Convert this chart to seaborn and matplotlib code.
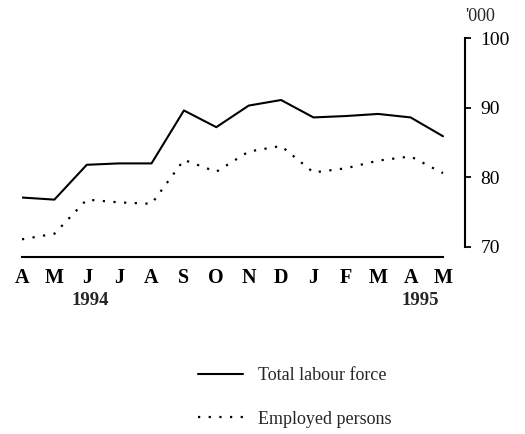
import matplotlib
matplotlib.use("Agg")
import matplotlib.pyplot as plt
import pandas as pd
import seaborn as sns

# data ('000 persons), Apr 1994 - May 1995
months = ["A", "M", "J", "J", "A", "S", "O", "N", "D", "J", "F", "M", "A", "M"]
total_labour = [77.1, 76.8, 81.8, 82.0, 82.0, 89.6, 87.2, 90.3, 91.1, 88.6, 88.8, 89.1, 88.6, 85.9]
employed = [71.1, 71.9, 76.8, 76.4, 76.2, 82.5, 80.8, 83.7, 84.5, 80.7, 81.3, 82.4, 83.0, 80.6]
years = ["1994", "1995"]
year_pos = [2.1, 12.3]

df = pd.DataFrame({"pos": range(len(months)),
                   "Total labour force": total_labour,
                   "Employed persons": employed})

sns.set_style("white")
plt.rcParams["font.family"] = ["Liberation Serif", "DejaVu Serif"]

fig = plt.figure(figsize=(5.25, 4.34), dpi=100)
ax = fig.add_axes([0.0419, 0.4078, 0.8438, 0.5046])

sns.lineplot(data=df, x="pos", y="Total labour force", ax=ax, color="black",
             linewidth=1.5, label="Total labour force")
sns.lineplot(data=df, x="pos", y="Employed persons", ax=ax, color="black",
             linewidth=1.6, linestyle=(0, (1, 3.8)), label="Employed persons")

n = len(months)
ax.set_xlim(0, (n - 1) * (465 - 22) / (443 - 22))
ax.set_ylim(68.56, 100)
ax.set_xlabel("")
ax.set_ylabel("")

for s in ["left", "top"]:
    ax.spines[s].set_visible(False)
ax.spines["bottom"].set_bounds(0, n - 1)
ax.spines["right"].set_bounds(70, 100)
for s in ["bottom", "right"]:
    ax.spines[s].set_linewidth(1.5)
    ax.spines[s].set_color("black")

ax.yaxis.tick_right()
ax.set_yticks([70, 80, 90, 100])
ax.tick_params(axis="y", direction="out", length=4, width=1.3, pad=7,
               labelsize=14, colors="black")
ax.set_xticks(range(n))
ax.set_xticklabels(months, fontweight="bold")
ax.tick_params(axis="x", direction="out", length=5, width=1.3, pad=3,
               labelsize=14.5, colors="black")

for y, p in zip(years, year_pos):
    ax.text(p, -0.197, y, transform=ax.get_xaxis_transform(), ha="center",
            va="center", fontsize=13.5, fontweight="bold")

ax.text(1.0, 1.10, "'000", transform=ax.transAxes, ha="left", va="center",
        fontsize=13)

handles, labels = ax.get_legend_handles_labels()
ax.get_legend().remove()
fig.legend(handles, labels, loc="center left", bbox_to_anchor=(0.377, 0.084),
           frameon=False, fontsize=13, handlelength=2.5, handletextpad=0.85,
           labelspacing=1.45, borderpad=0, borderaxespad=0)

fig.savefig("out.png", dpi=100)
